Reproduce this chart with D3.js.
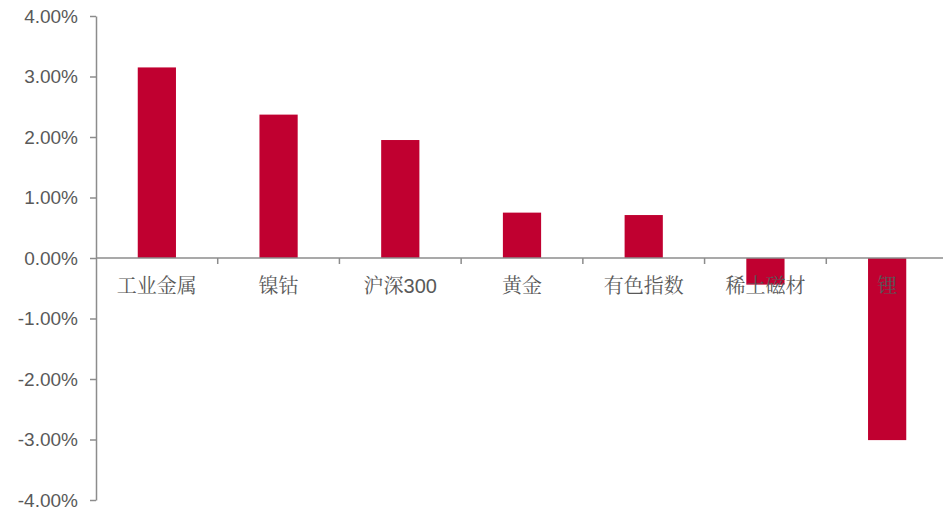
<!DOCTYPE html>
<html><head><meta charset="utf-8">
<script src="https://cdn.jsdelivr.net/npm/d3@7"></script>
<style>body{margin:0;background:#fff;}svg{display:block;}</style>
</head><body>
<svg id="c" width="943" height="510"></svg>
<script>
const categories = ["工业金属","镍钴","沪深300","黄金","有色指数","稀土磁材","锂"];
const values = [3.15, 2.37, 1.95, 0.75, 0.71, -0.44, -3.01];
const yTicks = [4,3,2,1,0,-1,-2,-3,-4];

const svg = d3.select("#c");
const x = d3.scaleBand().domain(categories).range([96, 948]).paddingInner(0.686).paddingOuter(0.343);
const y = d3.scaleLinear().domain([-4, 4]).range([500, 16]);
const axisColor = "#8c8c8c", textColor = "#595959";

svg.selectAll("rect.bar").data(values).join("rect")
  .attr("class","bar")
  .attr("x",(d,i)=>x(categories[i]))
  .attr("width",x.bandwidth())
  .attr("y",d=>y(Math.max(0,d)))
  .attr("height",d=>Math.abs(y(d)-y(0)))
  .attr("fill","#c00030");

// y axis
const ya = svg.append("g").attr("transform","translate(96,0)")
  .call(d3.axisLeft(y).tickValues(yTicks).tickSize(6).tickSizeOuter(0).tickPadding(12).tickFormat(d=>d.toFixed(2)+"%"));
ya.select(".domain").attr("stroke",axisColor).attr("stroke-width",1.5);
ya.selectAll(".tick line").attr("stroke",axisColor).attr("stroke-width",1.5);
ya.selectAll(".tick text").attr("fill",textColor).attr("font-size",19).attr("font-family","'Liberation Sans', Arial, sans-serif");

// x axis at zero
const xa = svg.append("g").attr("transform",`translate(0,${y(0)})`);
xa.append("line").attr("x1",96).attr("x2",948).attr("stroke",axisColor).attr("stroke-width",1.5);
xa.selectAll("line.t").data(categories.slice(1)).join("line").attr("class","t")
  .attr("x1",d=>x(d)-x.step()*x.paddingInner()/2 ).attr("x2",d=>x(d)-x.step()*x.paddingInner()/2)
  .attr("y1",0).attr("y2",6).attr("stroke",axisColor).attr("stroke-width",1.5);
xa.selectAll("text").data(categories).join("text")
  .attr("x",d=>x(d)+x.bandwidth()/2).attr("y",35)
  .attr("text-anchor","middle").attr("fill",textColor).attr("font-size",20)
  .attr("font-family","'Liberation Sans', 'Noto Serif CJK SC', 'Noto Sans CJK SC', sans-serif")
  .text(d=>d);
</script>
</body></html>
